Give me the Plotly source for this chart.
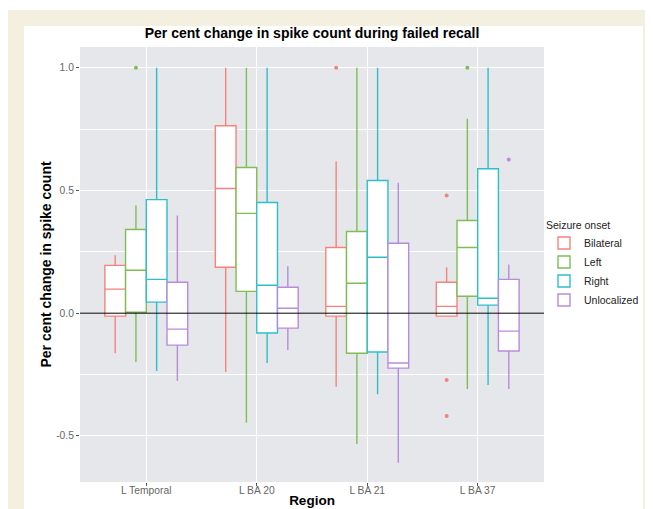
import plotly.graph_objects as go

regions = ["L Temporal", "L BA 20", "L BA 21", "L BA 37"]
onsets = ["Bilateral", "Left", "Right", "Unlocalized"]
colors = ["#F6837A", "#7DBE55", "#2EBFCB", "#B98BDD"]

# per onset: values across the 4 regions
q1 = {
    "Bilateral":   [-0.012, 0.187, -0.012, -0.012],
    "Left":        [0.004, 0.089, -0.163, 0.069],
    "Right":       [0.045, -0.081, -0.158, 0.033],
    "Unlocalized": [-0.130, -0.061, -0.224, -0.154],
}
median = {
    "Bilateral":   [0.098, 0.508, 0.028, 0.028],
    "Left":        [0.175, 0.407, 0.122, 0.268],
    "Right":       [0.138, 0.114, 0.228, 0.061],
    "Unlocalized": [-0.065, 0.020, -0.203, -0.073],
}
q3 = {
    "Bilateral":   [0.195, 0.764, 0.268, 0.126],
    "Left":        [0.341, 0.594, 0.333, 0.378],
    "Right":       [0.463, 0.451, 0.541, 0.589],
    "Unlocalized": [0.126, 0.106, 0.285, 0.138],
}
lower = {
    "Bilateral":   [-0.163, -0.240, -0.300, -0.012],
    "Left":        [-0.199, -0.447, -0.533, -0.309],
    "Right":       [-0.236, -0.203, -0.330, -0.293],
    "Unlocalized": [-0.276, -0.150, -0.610, -0.309],
}
upper = {
    "Bilateral":   [0.236, 1.000, 0.618, 0.187],
    "Left":        [0.439, 1.000, 1.000, 0.793],
    "Right":       [1.000, 1.000, 1.000, 1.000],
    "Unlocalized": [0.398, 0.191, 0.532, 0.199],
}
outliers = {
    "Bilateral":   [[], [], [1.0], [0.48, -0.272, -0.419]],
    "Left":        [[1.0], [], [], [1.0]],
    "Right":       [[], [], [], []],
    "Unlocalized": [[], [], [], [0.626]],
}

FONT = "Liberation Sans, Arial, sans-serif"

fig = go.Figure()
for name, col in zip(onsets, colors):
    # sample points per box: outliers, or the median when a box has none
    pts = [o if o else [m] for o, m in zip(outliers[name], median[name])]
    fig.add_trace(go.Box(
        name=name,
        x=regions,
        y=pts,
        q1=q1[name], median=median[name], q3=q3[name],
        lowerfence=lower[name], upperfence=upper[name],
        boxpoints="outliers", jitter=0, pointpos=0,
        whiskerwidth=0,
        fillcolor="white",
        line=dict(color=col, width=1.4),
        marker=dict(color=col, size=4),
    ))

fig.add_hline(y=0, line_color="black", line_width=1, layer="above")

cream = "#f4f0e0"
for x0, x1, y0, y1 in [(-0.1552, -0.1207, -0.07, 1.0851),
                       (-0.1552, 1.2349, 1.0483, 1.0851),
                       (1.2134, 1.2349, -0.07, 1.0851)]:
    fig.add_shape(type="rect", xref="paper", yref="paper", x0=x0, x1=x1, y0=y0, y1=y1,
                  fillcolor=cream, line_width=0, layer="below")

fig.update_layout(
    width=645, height=501,
    margin=dict(l=72, r=109, t=39, b=27, autoexpand=False),
    paper_bgcolor="white",
    plot_bgcolor="#e5e7ea",
    boxmode="group", boxgap=0.25, boxgroupgap=0,
    font=dict(family=FONT, size=10, color="#333"),
    title=dict(text="<b>Per cent change in spike count during failed recall</b>",
               x=304/645, xanchor="center", y=1-25/501, yanchor="middle",
               font=dict(size=14, color="black")),
    legend=dict(title=dict(text="Seizure onset", font=dict(size=10.5, color="#222")),
                font=dict(size=10.5, color="#222"),
                x=1.0, xanchor="left", y=0.614, yanchor="top",
                bgcolor="rgba(0,0,0,0)"),
    showlegend=True,
)
fig.update_xaxes(
    type="category", categoryorder="array", categoryarray=regions,
    range=[-0.6, 3.6], automargin=False,
    showgrid=True, gridcolor="white", gridwidth=1.2,
    ticks="outside", ticklen=3, tickcolor="#555",
    tickfont=dict(size=10.3, color="#666"), ticklabelstandoff=-4,
    title=dict(text="<b>Region</b>", font=dict(size=13.5, color="black"), standoff=0),
    zeroline=False,
)
fig.update_yaxes(
    range=[-0.688, 1.085], automargin=False,
    tickvals=[-0.5, 0.0, 0.5, 1.0], ticktext=["-0.5", "0.0", "0.5", "1.0"],
    showgrid=True, gridcolor="white", gridwidth=1.2,
    minor=dict(tickvals=[-0.25, 0.25, 0.75], showgrid=True, gridcolor="white", gridwidth=0.6),
    ticks="outside", ticklen=3, tickcolor="#555",
    tickfont=dict(size=10.3, color="#666"),
    title=dict(text="<b>Per cent change in spike count</b>", font=dict(size=14, color="black"), standoff=1),
    zeroline=False,
)

fig.write_html("out.html")
